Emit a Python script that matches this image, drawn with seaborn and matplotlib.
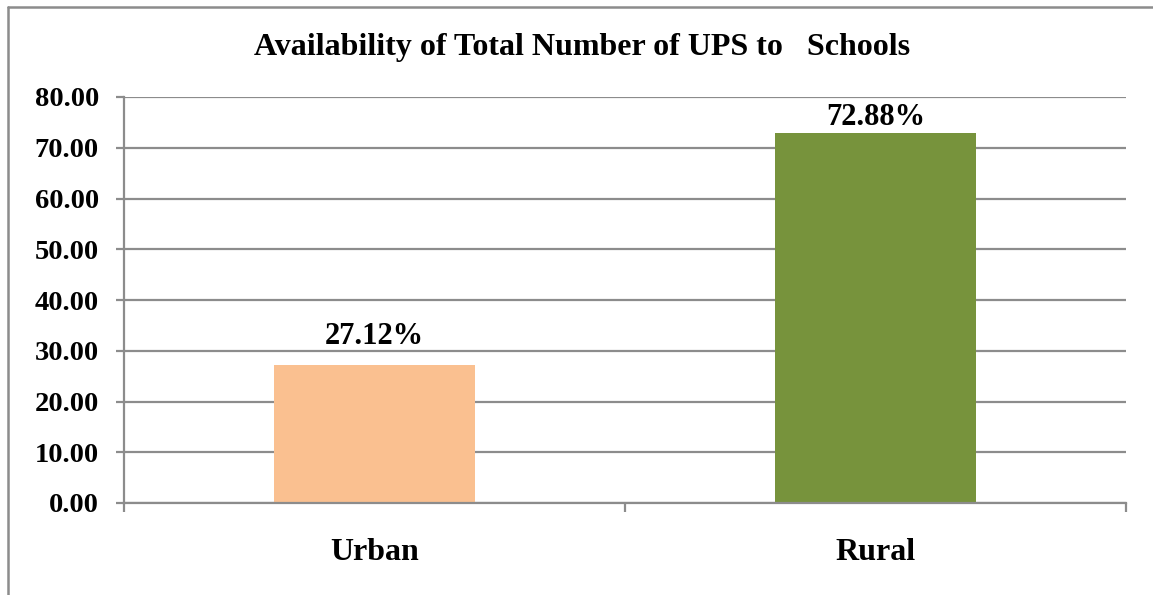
import matplotlib
matplotlib.use("Agg")
import matplotlib.pyplot as plt
from matplotlib.lines import Line2D
from matplotlib.ticker import FixedLocator, FormatStrFormatter
import seaborn as sns
import pandas as pd

categories = ["Urban", "Rural"]
values = [27.12, 72.88]
value_labels = ["27.12%", "72.88%"]
bar_colors = ["#FAC090", "#77933C"]
title = "Availability of Total Number of UPS to   Schools"
y_ticks = [0, 10, 20, 30, 40, 50, 60, 70, 80]

sns.set_theme(style="white")
plt.rcParams["font.family"] = ["Liberation Serif", "DejaVu Serif"]
plt.rcParams["font.weight"] = "bold"

df = pd.DataFrame({"category": categories, "value": values})

fig = plt.figure(figsize=(11.53, 5.95), dpi=100)
ax = fig.add_axes([124 / 1153, 1 - 503 / 595, (1126 - 124) / 1153, (503 - 97) / 595])

sns.barplot(data=df, x="category", y="value", hue="category",
            palette=dict(zip(categories, bar_colors)), width=0.4,
            legend=False, ax=ax, saturation=1, linewidth=0, edgecolor="none")

ax.set_xlim(-0.5, 1.5)
ax.set_ylim(0, 80)
ax.set_yticks(y_ticks)
ax.yaxis.set_major_formatter(FormatStrFormatter("%.2f"))
ax.yaxis.grid(True, color="#8C8C8C", linewidth=1.6)
ax.set_axisbelow(True)
ax.set_xlabel("")
ax.set_ylabel("")

for s in ["top", "right"]:
    ax.spines[s].set_visible(False)
for s in ["left", "bottom"]:
    ax.spines[s].set_visible(True)
    ax.spines[s].set_color("#8C8C8C")
    ax.spines[s].set_linewidth(1.6)

ax.tick_params(axis="y", which="major", left=True, length=6, width=1.6,
               color="#8C8C8C", pad=12, labelsize=20.5, labelcolor="black")
ax.xaxis.set_minor_locator(FixedLocator([-0.5, 0.5, 1.5]))
ax.tick_params(axis="x", which="major", bottom=False, length=0, pad=25,
               labelsize=23, labelcolor="black")
ax.tick_params(axis="x", which="minor", bottom=True, length=6.5, width=1.6,
               color="#8C8C8C")
for lab in ax.get_xticklabels() + ax.get_yticklabels():
    lab.set_fontweight("bold")

label_pads = [10, 0.5]
for i, container in enumerate(ax.containers):
    ax.bar_label(container, labels=[value_labels[i]], padding=label_pads[i],
                 fontsize=22, fontweight="bold", color="black")

fig.text(582 / 1153, 1 - 48 / 595, title, ha="center", va="center",
         fontsize=23, fontweight="bold", color="black")

# outer chart-area border (left and top edges visible)
fig.add_artist(Line2D([8 / 1153, 8 / 1153], [0, 1 - 7 / 595],
                      transform=fig.transFigure, color="#8C8C8C", linewidth=1.8))
fig.add_artist(Line2D([8 / 1153, 1], [1 - 7 / 595, 1 - 7 / 595],
                      transform=fig.transFigure, color="#8C8C8C", linewidth=1.8))

fig.savefig("out.png", dpi=100, facecolor="white")
